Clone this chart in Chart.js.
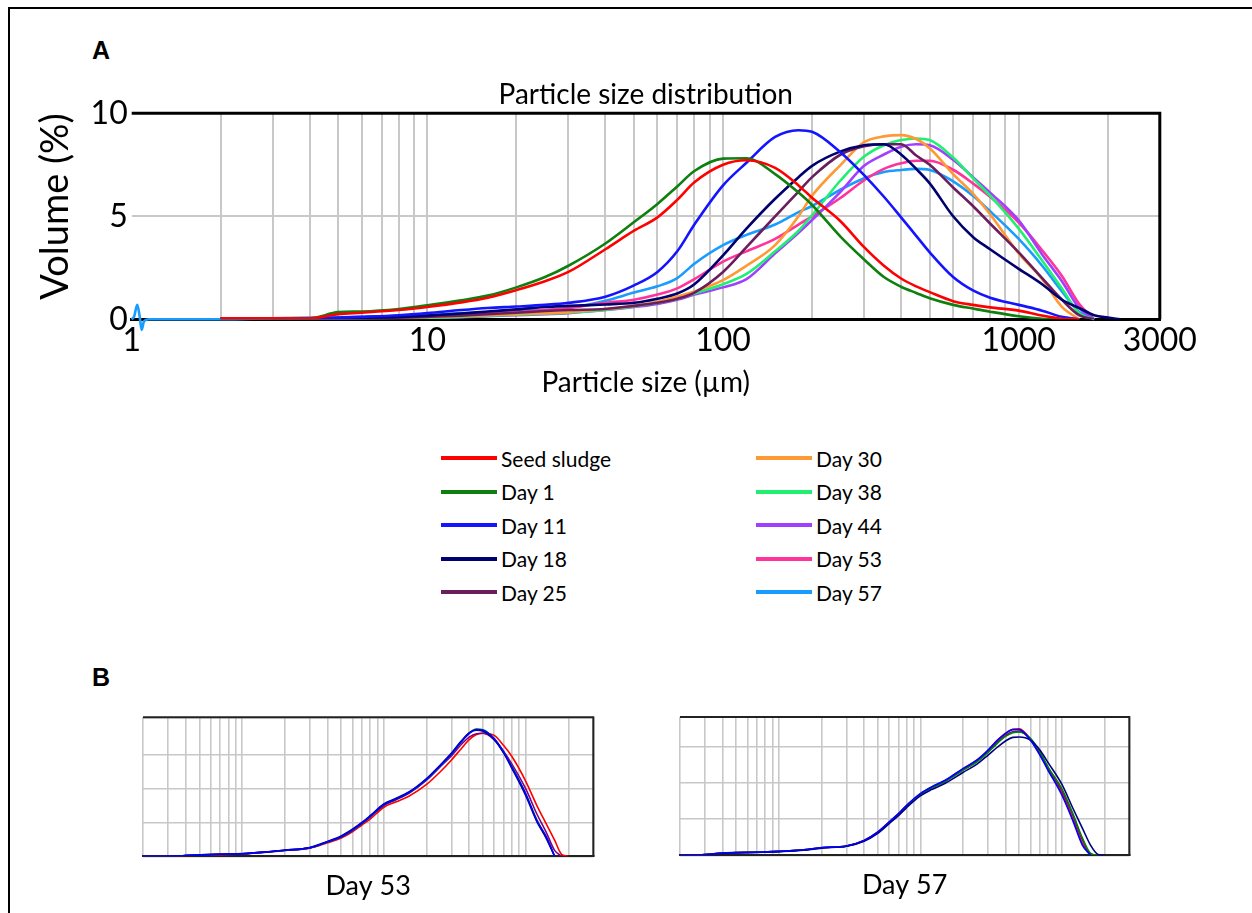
<!DOCTYPE html>
<html><head><meta charset="utf-8">
<script src="https://cdn.jsdelivr.net/npm/chart.js@4.4.1/dist/chart.umd.min.js"></script>
<style>
html,body{margin:0;padding:0;background:#fff;width:1252px;height:913px;overflow:hidden;font-family:Lato,sans-serif;}
#outer{position:absolute;left:8px;top:7px;width:1300px;height:1000px;border-left:2px solid #000;border-top:2px solid #000;}
.panel{position:absolute;font-family:"Liberation Sans",Arial,sans-serif;font-weight:bold;font-size:25px;line-height:1;}
canvas{position:absolute;}
.item{position:absolute;display:flex;align-items:center;height:30px;font-size:21px;color:#000;white-space:nowrap;}
.swatch{width:56px;height:4px;margin-right:4px;}
</style></head><body>
<div id="outer"></div>
<div class="panel" style="left:92px;top:38px">A</div>
<div class="panel" style="left:92px;top:665px">B</div>
<canvas id="main" width="1252" height="420" style="left:0;top:0"></canvas>
<div id="legend"></div>
<canvas id="b53" width="470" height="200" style="left:133px;top:707px"></canvas>
<canvas id="b57" width="470" height="200" style="left:670px;top:706.7px"></canvas>
<script>
// ---------- Panel A data ----------
const sizes = [1, 2, 3, 4, 5, 6, 8, 10, 13, 16, 20, 25, 30, 40, 50, 60, 70, 80, 100, 120, 150, 180, 200, 250, 300, 350, 400, 450, 500, 600, 700, 800, 1000, 1200, 1400, 1600, 1800, 2000, 2200];
const seedSludge = [null, 0.05, 0.05, 0.05, 0.25, 0.32, 0.45, 0.6, 0.82, 1.05, 1.42, 1.85, 2.3, 3.4, 4.3, 4.95, 5.8, 6.65, 7.5, 7.72, 7.35, 6.5, 5.9, 4.75, 3.5, 2.6, 1.98, 1.6, 1.32, 0.88, 0.7, 0.58, 0.42, 0.18, 0.03, 0, null, null, null];
const day1 = [null, 0.05, 0.05, 0.05, 0.35, 0.38, 0.5, 0.68, 0.92, 1.15, 1.55, 2.05, 2.6, 3.68, 4.72, 5.6, 6.45, 7.2, 7.8, 7.82, 7.05, 6.15, 5.55, 4.0, 2.9, 2.05, 1.58, 1.28, 1.02, 0.7, 0.52, 0.37, 0.15, 0.03, 0, null, null, null, null];
const day11 = [null, 0.05, 0.05, 0.05, 0.08, 0.12, 0.2, 0.3, 0.45, 0.55, 0.62, 0.7, 0.8, 1.1, 1.65, 2.3, 3.3, 4.6, 6.5, 7.6, 8.85, 9.18, 9.1, 8.1, 7.0, 5.95, 4.95, 4.05, 3.25, 2.05, 1.4, 1.05, 0.7, 0.42, 0.12, 0, null, null, null];
const day18 = [null, 0.05, 0.05, 0.05, 0.05, 0.08, 0.12, 0.18, 0.28, 0.38, 0.48, 0.6, 0.65, 0.72, 0.8, 1.0, 1.25, 1.7, 3.1, 4.4, 5.85, 6.9, 7.45, 8.15, 8.45, 8.5, 8.0, 7.3, 6.6, 5.0, 4.0, 3.4, 2.45, 1.7, 0.95, 0.55, 0.2, 0.08, 0];
const day25 = [null, 0.03, 0.03, 0.05, 0.05, 0.05, 0.08, 0.12, 0.18, 0.25, 0.32, 0.4, 0.45, 0.5, 0.65, 0.8, 1.0, 1.3, 2.3, 3.5, 5.0, 6.2, 6.9, 8.0, 8.4, 8.5, 8.5, 7.95, 7.5, 6.4, 5.5, 4.65, 3.25, 2.0, 0.95, 0.2, 0, null, null];
const day30 = [null, 0.03, 0.03, 0.03, 0.03, 0.05, 0.08, 0.1, 0.15, 0.2, 0.25, 0.3, 0.35, 0.5, 0.65, 0.85, 1.1, 1.35, 1.9, 2.6, 3.6, 5.0, 6.0, 7.5, 8.6, 8.88, 8.94, 8.75, 8.3, 7.05, 6.1, 5.1, 3.2, 1.95, 0.6, 0, null, null, null];
const day38 = [null, 0.02, 0.02, 0.02, 0.03, 0.04, 0.06, 0.08, 0.12, 0.18, 0.22, 0.28, 0.32, 0.45, 0.62, 0.8, 1.0, 1.25, 1.7, 2.2, 3.3, 4.3, 5.05, 6.75, 7.9, 8.45, 8.7, 8.78, 8.7, 7.85, 6.85, 6.0, 4.4, 2.85, 1.5, 0.3, 0, null, null];
const day44 = [null, 0.02, 0.02, 0.03, 0.03, 0.03, 0.04, 0.06, 0.1, 0.15, 0.2, 0.25, 0.3, 0.45, 0.6, 0.75, 0.95, 1.2, 1.55, 1.95, 3.2, 4.2, 4.82, 6.2, 7.45, 8.0, 8.38, 8.5, 8.45, 7.75, 6.9, 6.15, 4.8, 3.15, 1.85, 0.55, 0, null, null];
const day53 = [null, 0.02, 0.02, 0.03, 0.05, 0.06, 0.1, 0.15, 0.2, 0.28, 0.35, 0.45, 0.55, 0.8, 0.95, 1.2, 1.5, 1.95, 2.8, 3.3, 3.9, 4.6, 5.0, 5.9, 6.75, 7.3, 7.57, 7.7, 7.7, 7.26, 6.6, 5.95, 4.7, 3.35, 2.1, 0.75, 0, null, null];
const day57 = [null, 0, 0.05, 0.08, 0.1, 0.12, 0.15, 0.2, 0.3, 0.32, 0.4, 0.45, 0.55, 0.9, 1.3, 1.6, 2.0, 2.7, 3.6, 4.1, 4.6, 5.2, 5.5, 6.3, 6.85, 7.15, 7.25, 7.3, 7.25, 6.7, 6.0, 5.25, 3.9, 2.6, 1.35, 0.35, 0, null, null];
// small wiggle of the Day 57 trace at the very start of the axis
const day57StartSizes = [1, 1.02, 1.044, 1.065, 1.081, 1.1, 1.14];
const day57StartValues = [0, 0.15, 0.7, 0.1, -0.52, -0.1, 0];

const seriesNames = ['Seed sludge', 'Day 1', 'Day 11', 'Day 18', 'Day 25', 'Day 30', 'Day 38', 'Day 44', 'Day 53', 'Day 57'];
const seriesColors = ['#ff0000', '#0f7f0f', '#1414ff', '#000070', '#6b1e5e', '#ff9933', '#20f070', '#a040ff', '#ff3399', '#1a9cff'];
const seriesValues = [seedSludge, day1, day11, day18, day25, day30, day38, day44, day53, day57];

const yTicksA = [0, 5, 10];
const xTickLabels = [1, 10, 100, 1000, 3000];
const gridTicksA = [1, 2, 3, 4, 5, 6, 7, 8, 9, 10, 20, 30, 40, 50, 60, 70, 80, 90, 100, 200, 300, 400, 500, 600, 700, 800, 900, 1000, 2000, 3000];

// ---------- Panel B data ----------
const sizesB = [2, 3, 4, 5, 7, 10, 15, 20, 30, 40, 50, 60, 70, 80, 100, 120, 150, 200, 250, 300, 350, 400, 450, 500, 600, 700, 800, 1000, 1200, 1400, 1600, 1800, 2000];
const day53Blue = [0, 0, 0.05, 0.08, 0.12, 0.15, 0.26, 0.36, 0.5, 0.86, 1.16, 1.56, 1.96, 2.36, 3.06, 3.36, 3.76, 4.56, 5.36, 6.06, 6.76, 7.26, 7.5, 7.46, 6.96, 6.16, 5.26, 3.7, 2.1, 1.15, 0, null, null];
const day53Navy = [0, 0, 0.05, 0.08, 0.12, 0.15, 0.26, 0.36, 0.52, 0.88, 1.2, 1.6, 2.0, 2.4, 3.1, 3.4, 3.8, 4.6, 5.4, 6.1, 6.8, 7.3, 7.45, 7.4, 6.9, 6.1, 5.2, 3.6, 2.05, 1.05, 0, null, null];
const day53Green = [0, 0, 0.05, 0.08, 0.12, 0.15, 0.25, 0.35, 0.5, 0.85, 1.15, 1.55, 1.95, 2.35, 3.05, 3.35, 3.75, 4.55, 5.35, 6.05, 6.75, 7.3, 7.52, 7.48, 6.95, 6.15, 5.3, 3.7, 2.15, 1.1, 0.02, null, null];
const day53Purple = [0, 0, 0.05, 0.08, 0.12, 0.16, 0.26, 0.36, 0.5, 0.84, 1.12, 1.5, 1.92, 2.32, 3.0, 3.32, 3.72, 4.5, 5.3, 5.95, 6.6, 7.05, 7.25, 7.28, 6.9, 6.2, 5.45, 4.0, 2.5, 1.4, 0.35, 0, null];
const day53Red = [0, 0, 0.04, 0.06, 0.1, 0.14, 0.24, 0.34, 0.48, 0.8, 1.08, 1.45, 1.85, 2.2, 2.9, 3.2, 3.55, 4.25, 5.0, 5.7, 6.35, 6.9, 7.2, 7.28, 7.15, 6.55, 5.9, 4.45, 3.0, 1.9, 0.95, 0.1, 0];

const day57Blue = [0, 0.04, 0.13, 0.15, 0.17, 0.22, 0.31, 0.43, 0.52, 0.83, 1.3, 1.85, 2.31, 2.78, 3.43, 3.8, 4.17, 4.81, 5.28, 5.83, 6.39, 6.76, 6.98, 6.98, 6.39, 5.56, 4.72, 3.35, 1.9, 0.55, 0, null, null];
const day57Red = [0, 0.04, 0.12, 0.15, 0.17, 0.22, 0.31, 0.42, 0.52, 0.82, 1.28, 1.83, 2.3, 2.76, 3.4, 3.78, 4.15, 4.8, 5.27, 5.82, 6.38, 6.78, 7.0, 7.02, 6.45, 5.6, 4.75, 3.45, 2.0, 0.65, 0.02, null, null];
const day57Green = [0, 0.04, 0.12, 0.15, 0.17, 0.22, 0.3, 0.42, 0.51, 0.8, 1.26, 1.8, 2.27, 2.74, 3.38, 3.74, 4.1, 4.72, 5.18, 5.7, 6.22, 6.6, 6.8, 6.85, 6.5, 5.75, 4.9, 3.7, 2.3, 0.95, 0.1, 0, null];
const day57Purple = [0, 0.04, 0.12, 0.15, 0.17, 0.22, 0.3, 0.42, 0.51, 0.81, 1.27, 1.82, 2.28, 2.75, 3.4, 3.76, 4.12, 4.75, 5.22, 5.75, 6.28, 6.66, 6.86, 6.88, 6.45, 5.7, 4.85, 3.6, 2.2, 0.85, 0.08, 0, null];
const day57Navy = [0, 0.03, 0.1, 0.14, 0.16, 0.2, 0.28, 0.4, 0.5, 0.78, 1.22, 1.75, 2.2, 2.65, 3.3, 3.65, 4.0, 4.6, 5.05, 5.55, 6.0, 6.35, 6.55, 6.57, 6.4, 5.85, 5.15, 3.95, 2.6, 1.5, 0.55, 0.05, 0];

const replicateColors = ['#0000ff', '#000080', '#008000', '#800080', '#ff0000'];
const gridTicksB = [2, 3, 4, 5, 6, 7, 8, 9, 10, 20, 30, 40, 50, 60, 70, 80, 90, 100, 200, 300, 400, 500, 600, 700, 800, 900, 1000, 2000, 3000];

// ---------- helpers ----------
Chart.defaults.font.family = 'Lato';
Chart.defaults.color = '#000';

const framePlugin = {
  id: 'frame',
  afterDatasetsDraw(chart, args, opts) {
    const {ctx, chartArea: a} = chart;
    ctx.save();
    ctx.strokeStyle = opts.color || '#000';
    ctx.lineWidth = opts.width || 2;
    ctx.beginPath();
    ctx.moveTo(a.left, a.top);
    ctx.lineTo(a.right, a.top);
    ctx.lineTo(a.right, a.bottom);
    ctx.stroke();
    ctx.restore();
  }
};

function toPoints(xs, ys) {
  return xs.map((x, i) => ({x: x, y: ys[i]})).filter(p => p.y !== null && p.y !== undefined);
}

// ---------- main chart ----------
const mainDatasets = seriesValues.map((vals, i) => {
  let pts = toPoints(sizes, vals);
  const ds = {
    label: seriesNames[i],
    borderColor: seriesColors[i],
    backgroundColor: seriesColors[i],
    borderWidth: 2.6,
    pointRadius: 0,
    cubicInterpolationMode: 'monotone',
    fill: false
  };
  if (seriesNames[i] === 'Day 57') {
    const lastStart = day57StartSizes[day57StartSizes.length - 1];
    pts = toPoints(day57StartSizes, day57StartValues).concat(pts.filter(p => p.x > lastStart));
    ds.clip = false;
  }
  ds.data = pts;
  return ds;
});

new Chart(document.getElementById('main'), {
  type: 'line',
  data: {datasets: mainDatasets},
  plugins: [framePlugin],
  options: {
    responsive: false,
    animation: false,
    events: [],
    layout: {padding: {left: 33, right: 92.2, top: 77.7, bottom: 20.2}},
    plugins: {
      legend: {display: false},
      tooltip: {enabled: false},
      title: {
        display: true, text: 'Particle size distribution', fullSize: false,
        font: {size: 28, weight: 'normal', lineHeight: 1.2}, color: '#000',
        padding: {top: 0, bottom: 2}
      },
      frame: {color: '#000', width: 3}
    },
    scales: {
      x: {
        type: 'logarithmic', min: 1, max: 3000,
        afterBuildTicks: s => { s.ticks = gridTicksA.map(v => ({value: v})); },
        afterFit: s => { s.height = 80.5; s.paddingLeft = 0; s.paddingRight = 0; },
        ticks: {
          autoSkip: false, maxRotation: 0, minRotation: 0, padding: 2,
          font: {size: 32},
          callback: v => xTickLabels.includes(v) ? String(v) : ''
        },
        grid: {
          drawTicks: false, lineWidth: 2,
          color: c => (c.tick && c.tick.value === 1) ? 'rgba(0,0,0,0)' : '#c8c8c8'
        },
        border: {display: true, color: '#000', width: 3},
        title: {display: true, text: 'Particle size (\u00b5m)', font: {size: 28, lineHeight: 1.2}, padding: 0}
      },
      y: {
        min: 0, max: 10,
        afterBuildTicks: s => { s.ticks = yTicksA.map(v => ({value: v})); },
        afterFit: s => { s.width = 98.7; s.paddingTop = 0; s.paddingBottom = 0; },
        ticks: {font: {size: 32}, padding: 4},
        grid: {drawTicks: false, lineWidth: 2, color: '#c8c8c8'},
        border: {display: false},
        title: {display: true, text: 'Volume (%)', align: 'end', font: {size: 38, lineHeight: 1.2}, padding: 0}
      }
    }
  }
});

// ---------- legend (HTML, built from the series arrays) ----------
const legendRowsY = [458, 491.5, 525, 558.5, 592];
const legendColsX = [441, 756];
const legendEl = document.getElementById('legend');
seriesNames.forEach((name, i) => {
  const col = Math.floor(i / 5), row = i % 5;
  const item = document.createElement('div');
  item.className = 'item';
  item.style.left = legendColsX[col] + 'px';
  item.style.top = (legendRowsY[row] - 15) + 'px';
  const sw = document.createElement('span');
  sw.className = 'swatch';
  sw.style.background = seriesColors[i];
  const tx = document.createElement('span');
  tx.textContent = name;
  item.appendChild(sw); item.appendChild(tx);
  legendEl.appendChild(item);
});

// ---------- small charts ----------
function smallChart(id, reps, title, yMax, pad) {
  const datasets = reps.map((vals, i) => ({
    data: toPoints(sizesB, vals),
    borderColor: replicateColors[i],
    borderWidth: 1.6,
    pointRadius: 0,
    cubicInterpolationMode: 'monotone',
    fill: false
  }));
  new Chart(document.getElementById(id), {
    type: 'line',
    data: {datasets: datasets},
    plugins: [framePlugin],
    options: {
      responsive: false, animation: false, events: [],
      layout: {padding: pad},
      plugins: {legend: {display: false}, tooltip: {enabled: false}, frame: {color: '#222', width: 2}},
      scales: {
        x: {
          type: 'logarithmic', min: 2, max: 3000,
          afterBuildTicks: s => { s.ticks = gridTicksB.map(v => ({value: v})); },
          afterFit: s => { s.height = 46; s.paddingLeft = 0; s.paddingRight = 0; },
          ticks: {display: false, autoSkip: false},
          grid: {drawTicks: false, lineWidth: 1.6, color: '#c8c8c8'},
          border: {display: true, color: '#222', width: 2},
          title: {display: true, text: title, font: {size: 27, lineHeight: 1.2}, padding: 0}
        },
        y: {
          min: 0, max: yMax,
          ticks: {display: false, stepSize: 2},
          afterFit: s => { s.width = 0; s.paddingTop = 0; s.paddingBottom = 0; },
          grid: {drawTicks: false, lineWidth: 1.6, color: '#c8c8c8'},
          border: {display: false}
        }
      }
    }
  });
}
smallChart('b53', [day53Blue, day53Navy, day53Green, day53Purple, day53Red], 'Day 53', 8.22,
  {left: 10, right: 9.7, top: 10.3, bottom: 4.7});
smallChart('b57', [day57Blue, day57Navy, day57Green, day57Purple, day57Red], 'Day 57', 7.68,
  {left: 10, right: 10.7, top: 10, bottom: 5.7});
</script>
</body></html>
